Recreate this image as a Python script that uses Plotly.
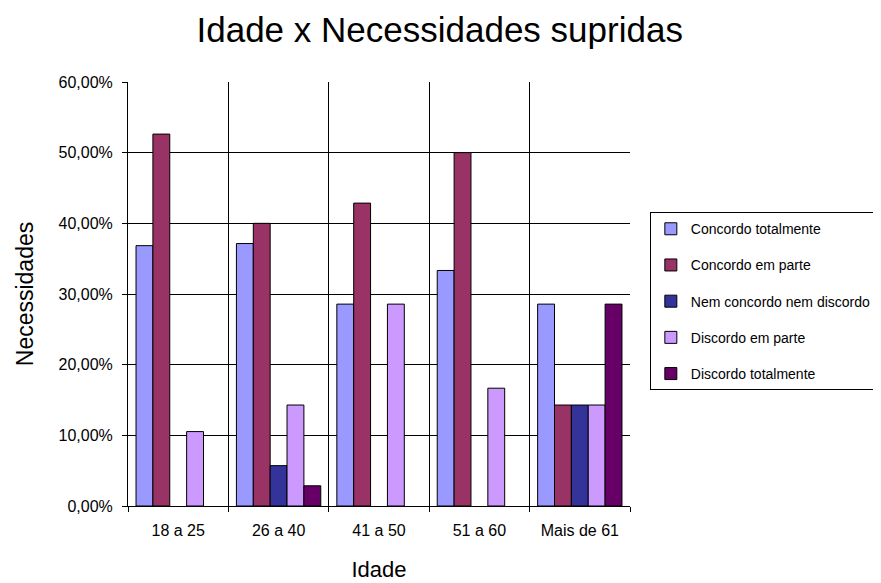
import plotly.graph_objects as go

idades = ["18 a 25", "26 a 40", "41 a 50", "51 a 60", "Mais de 61"]

# None = sem barra nessa faixa
concordo_totalmente = [0.3684, 0.3714, 0.2857, 0.3333, 0.2857]
concordo_em_parte = [0.5263, 0.4000, 0.4286, 0.5000, 0.1429]
nem_concordo = [None, 0.0571, None, None, 0.1429]
discordo_em_parte = [0.1053, 0.1429, 0.2857, 0.1667, 0.1429]
discordo_totalmente = [None, 0.0286, None, None, 0.2857]

series = [
    ("Concordo totalmente", concordo_totalmente, "#9999FF"),
    ("Concordo em parte", concordo_em_parte, "#993366"),
    ("Nem concordo nem discordo", nem_concordo, "#333399"),
    ("Discordo em parte", discordo_em_parte, "#CC99FF"),
    ("Discordo totalmente", discordo_totalmente, "#660066"),
]

fig = go.Figure()
for nome, valores, cor in series:
    fig.add_trace(
        go.Bar(
            x=idades,
            y=valores,
            name=nome,
            legendgroup=nome,
            marker=dict(color=cor, line=dict(color="black", width=1)),
        )
    )

fig.update_layout(
    width=881,
    height=583,
    barmode="group",
    bargap=0.16,
    bargroupgap=0,
    separators=",.",
    font=dict(family="Liberation Sans, Arial, sans-serif", color="black", size=16),
    plot_bgcolor="white",
    paper_bgcolor="white",
    margin=dict(l=120, r=255, t=74, b=85),
    title=dict(
        text="Idade x Necessidades supridas",
        x=0.49,
        xanchor="center",
        y=0.962,
        yanchor="middle",
        font=dict(size=35),
    ),
    legend=dict(
        x=1.0395,
        xanchor="left",
        y=0.693,
        yanchor="top",
        bordercolor="black",
        borderwidth=1,
        font=dict(size=14),
        itemwidth=30,
        traceorder="grouped",
        tracegroupgap=15,
    ),
)

fig.update_xaxes(
    type="category",
    tickson="boundaries",
    automargin=False,
    showgrid=True,
    gridcolor="black",
    gridwidth=1,
    showline=True,
    linecolor="black",
    ticks="outside",
    ticklen=5,
    tickcolor="black",
    ticklabelstandoff=10,
    title=dict(text="Idade", font=dict(size=22), standoff=23),
)

fig.update_yaxes(
    range=[0, 0.6],
    dtick=0.1,
    tickformat=".2%",
    automargin=False,
    showgrid=True,
    gridcolor="black",
    gridwidth=1,
    showline=True,
    linecolor="black",
    ticks="outside",
    ticklen=5,
    tickcolor="black",
    ticklabelstandoff=6,
    zeroline=False,
    title=dict(text="Necessidades", font=dict(size=23), standoff=18),
)

fig.write_html("out.html")
